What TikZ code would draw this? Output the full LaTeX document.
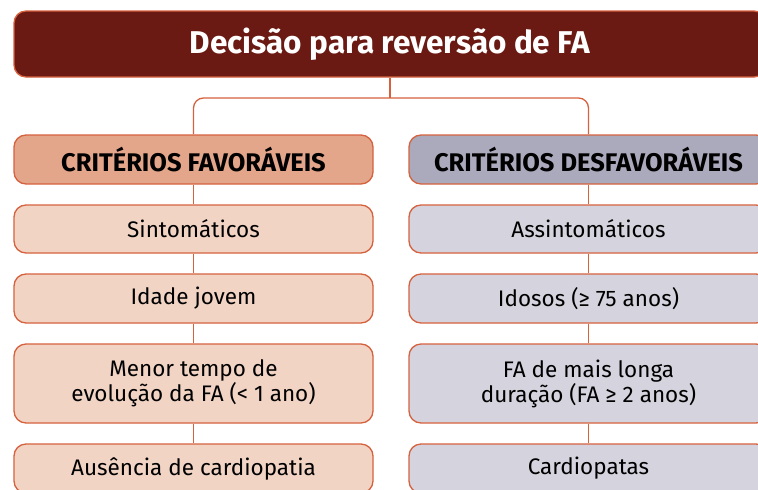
\documentclass[tikz,border=0pt]{standalone}
\usepackage{fontspec}
\setmainfont{Fira Sans}
\usetikzlibrary{positioning}
\definecolor{titlered}{HTML}{6A1A12}
\definecolor{edgered}{HTML}{D5613F}
\definecolor{favhead}{HTML}{E4A68A}
\definecolor{favfill}{HTML}{F2D4C4}
\definecolor{desfhead}{HTML}{ABAABD}
\definecolor{desffill}{HTML}{D5D4DE}
\newcommand{\colw}{359pt}

\begin{document}
\begin{tikzpicture}[x=1pt,y=-1pt,
    titlebox/.style={draw=edgered, line width=1.3pt, fill=titlered, rounded corners=12pt,
        minimum width=752pt, minimum height=66pt, text=white,
        font=\bfseries\fontsize{31.5}{34}\selectfont},
    headbox/.style={draw=edgered, line width=1.3pt, rounded corners=12pt,
        minimum width=\colw, minimum height=49pt,
        font=\bfseries\fontsize{25.5}{28}\selectfont},
    itembox/.style={draw=edgered, line width=1.3pt, rounded corners=12pt,
        minimum width=\colw, align=center, inner sep=0pt,
        font=\fontsize{22.5}{25}\selectfont},
    link/.style={draw=edgered, line width=1.3pt}]
  \clip (0,0) rectangle (758,490);
  \useasboundingbox (0,0) rectangle (758,490);
  % title
  \node[titlebox] (title) at (390,44) {Decisão para reversão de FA};
  % headers
  \node[headbox, fill=favhead] (fav) at (193.5,159.5) {CRITÉRIOS FAVORÁVEIS};
  \node[headbox, fill=desfhead] (desfav) at (588.5,159.5) {CRITÉRIOS DESFAVORÁVEIS};
  % favourable criteria
  \node[itembox, fill=favfill, minimum height=48pt] (f1) at (193.5,229) {Sintomáticos};
  \node[itembox, fill=favfill, minimum height=49pt] (f2) at (193.5,298.5) {Idade jovem};
  \node[itembox, fill=favfill, minimum height=79pt] (f3) at (193.5,383.5) {Menor tempo de\\evolução da FA (< 1 ano)};
  \node[itembox, fill=favfill, minimum height=49pt] (f4) at (193.5,468.5) {Ausência de cardiopatia};
  % unfavourable criteria
  \node[itembox, fill=desffill, minimum height=48pt] (d1) at (588.5,229) {Assintomáticos};
  \node[itembox, fill=desffill, minimum height=49pt] (d2) at (588.5,298.5) {Idosos (≥ 75 anos)};
  \node[itembox, fill=desffill, minimum height=79pt] (d3) at (588.5,383.5) {FA de mais longa\\duração (FA ≥ 2 anos)};
  \node[itembox, fill=desffill, minimum height=49pt] (d4) at (588.5,468.5) {Cardiopatas};
  % connectors
  \coordinate (split) at (title.south |- 0,98);
  \draw[link] (title.south) -- (split);
  \draw[link, rounded corners=10pt] (fav.north) |- (split) -| (desfav.north);
  \draw[link] (fav) -- (f1) (f1) -- (f2) (f2) -- (f3) (f3) -- (f4);
  \draw[link] (desfav) -- (d1) (d1) -- (d2) (d2) -- (d3) (d3) -- (d4);
\end{tikzpicture}
\end{document}
